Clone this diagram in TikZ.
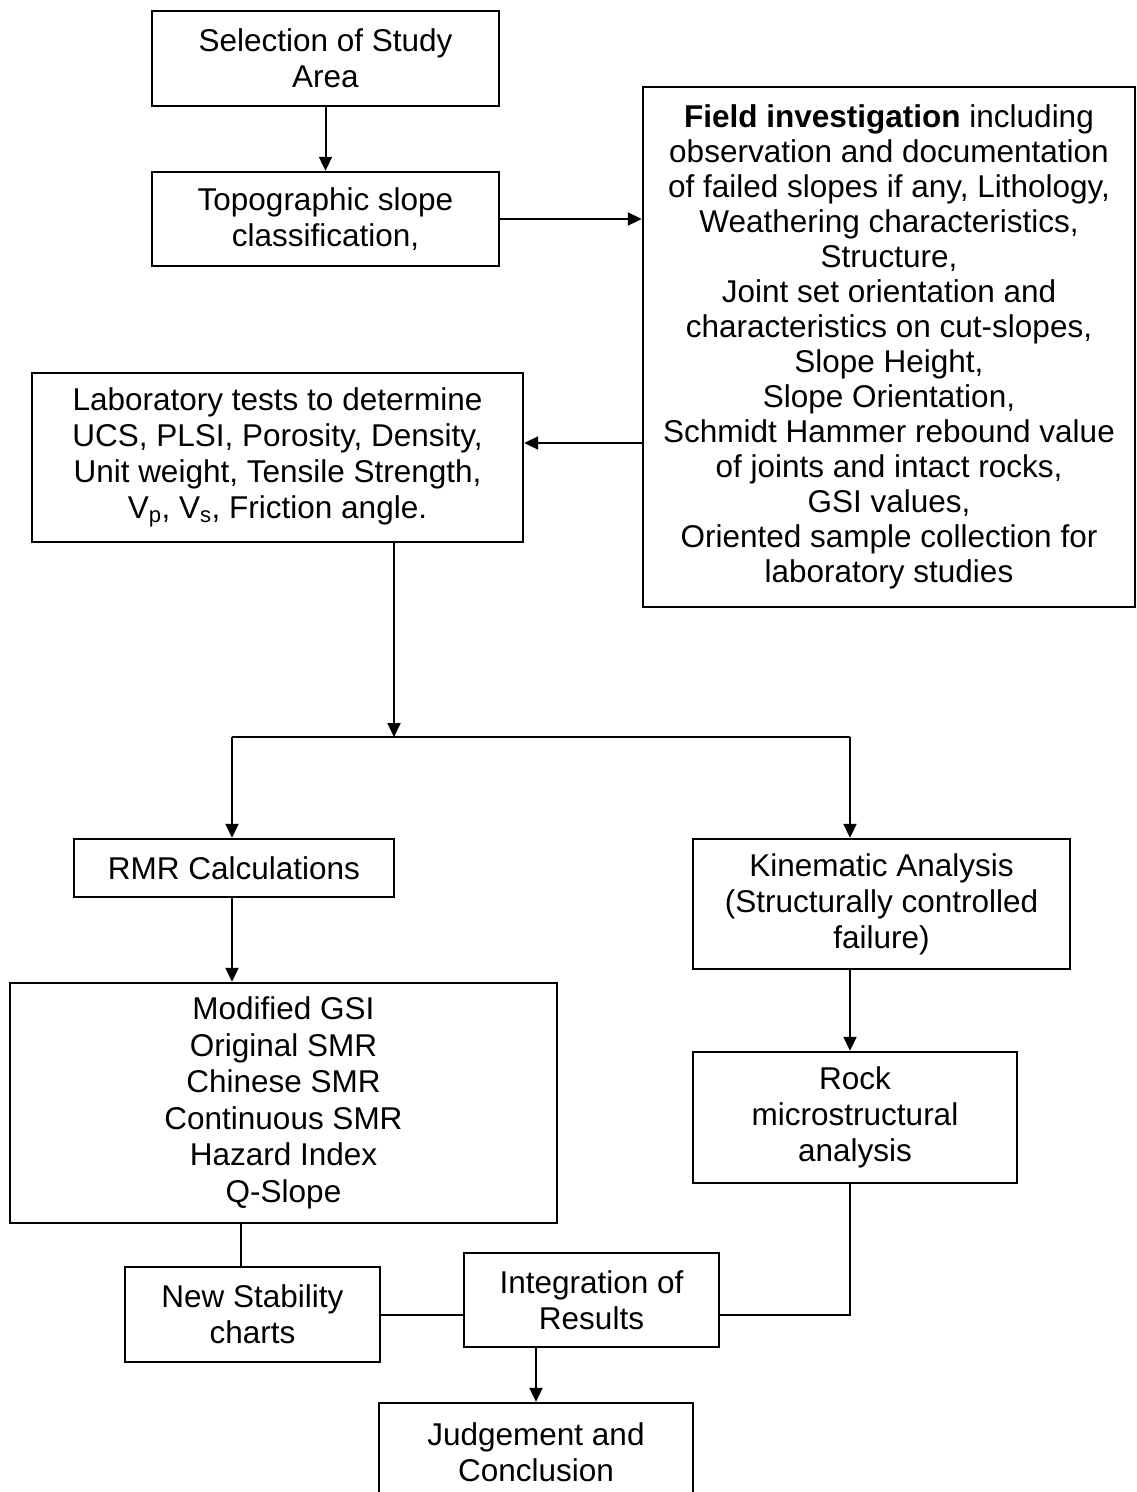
\documentclass[tikz,border=0pt]{standalone}
\usepackage{fontspec}
\setmainfont{Liberation Sans}
\usetikzlibrary{arrows.meta}

\begin{document}
\begin{tikzpicture}[x=1pt,y=-1pt,
			box/.style={draw,line width=2.4pt,inner sep=0pt,align=center,
				font=\fontsize{31.5}{36}\selectfont},
			link/.style={line width=2pt},
			arr/.style={link,-{Triangle[length=14pt,width=13pt]}}]
		\useasboundingbox (0,0) rectangle (1137,1492);
		% upper part
		\node[box,minimum width=347,minimum height=95] (select) at (325.5,58.5)
			{Selection of Study\\Area};
		\node[box,minimum width=347,minimum height=94] (topo) at (325.5,219)
			{Topographic slope\\classification,};
		\node[box,minimum width=492,minimum height=520,
			font=\fontsize{31.5}{35}\selectfont] (field) at (889,347)
			{\textbf{Field investigation} including\\observation and documentation\\
			of failed slopes if any, Lithology,\\Weathering characteristics,\\
			Structure,\\Joint set orientation and\\characteristics on cut-slopes,\\
			Slope Height,\\Slope Orientation,\\Schmidt Hammer rebound value\\
			of joints and intact rocks,\\GSI values,\\
			Oriented sample collection for\\laboratory studies};
		\node[box,minimum width=491,minimum height=169] (lab) at (277.5,457.5)
			{Laboratory tests to determine\\UCS, PLSI, Porosity, Density,\\
			Unit weight, Tensile Strength,\\V\textsubscript{p}, V\textsubscript{s}, Friction angle.};
		% lower part
		\node[box,minimum width=320,minimum height=58] (rmr) at (234,868)
			{RMR Calculations};
		\node[box,minimum width=377,minimum height=130] (kin) at (881.5,904)
			{Kinematic Analysis\\(Structurally controlled\\failure)};
		\node[box,minimum width=547,minimum height=240,
			font=\fontsize{31.5}{36.5}\selectfont] (gsi) at (283.5,1103)
			{Modified GSI\\Original SMR\\Chinese SMR\\Continuous SMR\\Hazard Index\\Q-Slope};
		\node[box,minimum width=324,minimum height=131] (micro) at (855,1117.5)
			{Rock\\microstructural\\analysis};
		\node[box,minimum width=255,minimum height=95] (newst) at (252.5,1314.5)
			{New Stability\\charts};
		\node[box,minimum width=255,minimum height=94] (integ) at (591.5,1300)
			{Integration of\\Results};
		\node[box,minimum width=314,minimum height=98] (judge) at (536,1452)
			{Judgement and\\Conclusion};
		% connectors
		\coordinate (split) at (394,737);
		\coordinate (lft) at (232,737);
		\coordinate (rgt) at (850,737);
		\coordinate (gsicut) at (241,0);
		\coordinate (toLab) at (0,443);
		\draw[arr] (select) -- (topo);
		\draw[arr] (topo.east) -- (topo.east -| field.west);
		\draw[arr] (field.west |- toLab) -- (lab.east |- toLab);
		\draw[arr] (lab.south -| split) -- (split);
		\draw[link] (lft) -- (rgt);
		\draw[arr] (lft) -- (lft |- rmr.north);
		\draw[arr] (rgt) -- (rgt |- kin.north);
		\draw[arr] (rmr.south -| lft) -- (lft |- gsi.north);
		\draw[arr] (kin.south -| rgt) -- (rgt |- micro.north);
		\draw[link] (gsi.south -| gsicut) -- (newst.north -| gsicut);
		\draw[link] (newst.east) -- (integ.west |- newst.east);
		\draw[link] (micro.south -| rgt) |- (integ.east |- newst.east);
		\draw[arr] (integ.south -| judge.north) -- (judge.north);
\end{tikzpicture}
\end{document}
